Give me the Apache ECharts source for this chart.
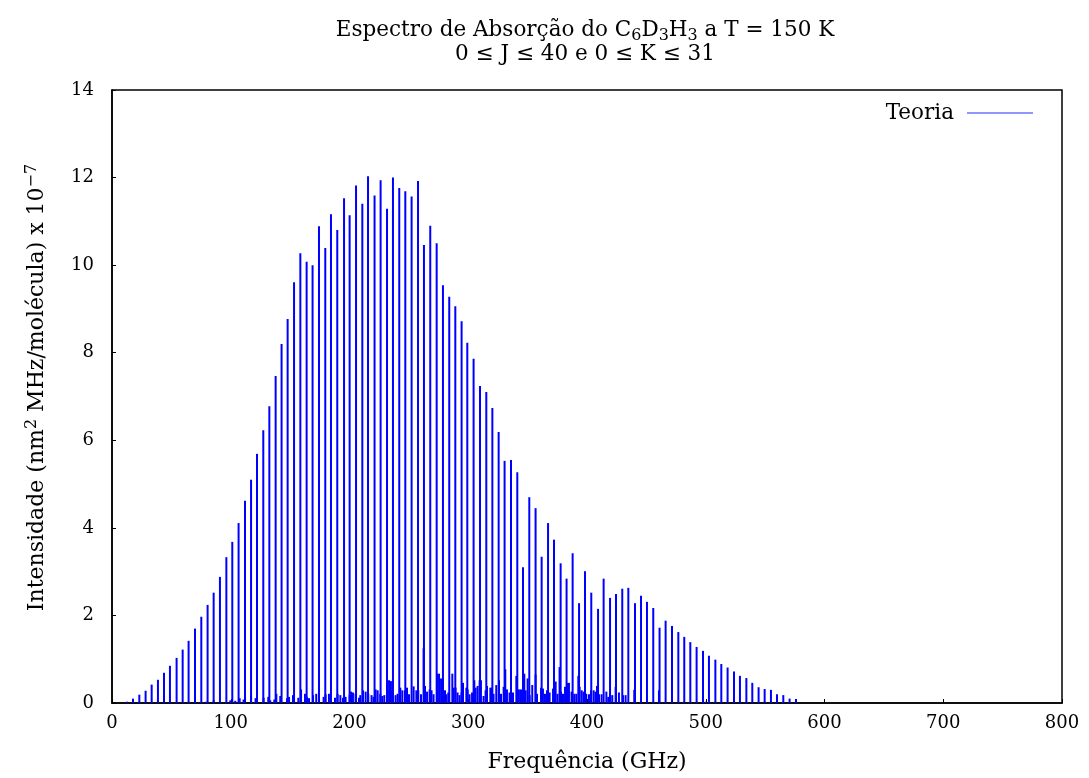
<!DOCTYPE html>
<html>
<head>
<meta charset="utf-8">
<script src="https://cdn.jsdelivr.net/npm/echarts@6/dist/echarts.min.js"></script>
<style>html,body{margin:0;padding:0;background:#fff}#c{width:1089px;height:778px}</style>
</head>
<body>
<div id="c"></div>
<script>
// Main (strong) absorption lines: frequency (GHz) and intensity (x 1e-7)
const mainFreq = [12.6, 17.7, 23.0, 28.3, 33.4, 38.7, 43.8, 48.8, 54.4, 59.5, 64.5, 69.9, 75.2, 80.5, 85.6, 90.9, 96.3, 101.3, 106.6, 112.0, 117.1, 122.1, 127.4, 132.5,
  137.8, 142.8, 147.9, 153.3, 158.6, 163.9, 168.9, 174.3, 179.6, 184.4, 189.7, 195.4, 200.1, 205.5, 210.8, 215.6, 221.1, 226.2, 231.6, 236.6, 241.9, 247.0, 252.3, 257.7, 262.7, 268.0, 273.4, 278.7, 284.0,
  289.1, 294.4, 299.2, 304.5, 309.9, 315.2, 320.3, 325.6, 330.6, 336.0, 341.3,
  346.1, 351.4, 356.7, 361.8, 367.2, 372.2, 377.8, 382.8, 387.9, 393.3, 398.3, 403.6, 409.3, 414.0, 419.4, 424.4, 429.7, 434.8, 440.4, 445.5, 450.5, 455.8, 461.1, 466.2, 471.6, 476.9, 481.9, 487.0, 492.3, 497.7, 502.7, 508.1, 513.1, 518.4, 523.8, 528.8, 534.2, 539.2, 544.5, 549.6, 554.9, 560.0, 565.3, 570.6, 576.0];
const mainIntensity = [0.03, 0.10, 0.19, 0.28, 0.42, 0.53, 0.69, 0.85, 1.03, 1.22, 1.42, 1.70, 1.97, 2.24, 2.52, 2.88, 3.33, 3.68, 4.11, 4.62, 5.10, 5.69, 6.23, 6.78,
  7.47, 8.20, 8.77, 9.61, 10.27, 10.08, 10.00, 10.89, 10.39, 11.16, 10.80, 11.53, 11.14, 11.82, 11.40, 12.03, 11.59, 11.94, 11.29, 12.00, 11.76, 11.69, 11.57, 11.92, 10.46, 10.90, 10.50, 9.54, 9.28,
  9.06, 8.72, 8.23, 7.86, 7.24, 7.10, 6.74, 6.19, 5.53, 5.55, 5.27,
  3.10, 4.70, 4.45, 3.34, 4.11, 3.73, 3.19, 2.84, 3.42, 2.28, 3.01, 2.52, 2.15, 2.84, 2.40, 2.49, 2.61, 2.63, 2.28, 2.45, 2.31, 2.17, 1.72, 1.88, 1.76, 1.62, 1.51, 1.39, 1.28, 1.19, 1.08, 0.99, 0.89, 0.81, 0.72, 0.62, 0.57, 0.46, 0.36, 0.32, 0.30, 0.20, 0.18, 0.10, 0.09];

// Weak lines (the low "forest" near the baseline)
const minorFreq = [79.4, 85.6, 99.6, 103.8, 107.5, 110.8, 117.1, 120.9, 127.7, 131.6, 133.3, 136.7, 138.4, 141.7, 147.4, 149.1, 152.4, 156.9,
  159.2, 162.5, 164.2, 165.9, 169.3, 172.0, 174.3, 178.2, 179.9, 182.7, 187.8, 190.0, 192.3, 194.5, 196.7, 200.1, 201.3, 202.9, 205.1, 208.0, 209.1, 211.4, 213.6, 215.8, 218.6, 220.3, 222.0, 223.7, 225.9, 227.6, 229.3, 231.6, 233.3, 234.9, 236.0, 238.8, 240.5, 242.8, 244.5, 246.7, 248.4, 250.1, 254.0, 256.3, 257.9,
  260.2, 262.4, 263.6, 265.3, 267.5, 269.1, 270.8, 273.7, 275.4, 277.1, 278.7, 280.4, 281.5, 283.2, 286.6, 287.7, 289.3, 291.0, 292.7, 294.4, 295.6, 298.4, 299.5, 301.1, 303.2, 305.1, 306.2, 307.9, 309.6, 310.7, 312.9, 314.6, 315.8, 318.6, 319.7, 321.3, 323.6, 325.9, 327.6, 329.8, 331.2, 332.6, 334.8, 336.0, 337.7, 340.5, 342.7, 344.4, 347.2, 348.3, 350.0, 351.7, 353.9, 356.7, 357.9,
  361.3, 362.9, 364.6, 366.3, 368.5, 371.4, 373.6, 375.2, 376.9, 378.1, 379.8, 381.5, 383.2, 384.8, 387.0, 389.3, 391.0, 392.7, 393.8, 395.5, 397.1, 399.4, 401.7, 403.4, 405.6, 407.2, 408.4, 410.1, 412.3, 416.3, 417.9, 419.6, 421.3, 424.1, 426.9, 430.3, 432.5, 439.8, 460.6, 500.2];
const minorIntensity = [0.03, 0.06, 0.06, 0.05, 0.11, 0.08, 0.15, 0.11, 0.12, 0.14, 0.06, 0.08, 0.21, 0.16, 0.11, 0.14, 0.18, 0.12,
  0.31, 0.21, 0.14, 0.11, 0.18, 0.21, 0.09, 0.14, 0.20, 0.21, 0.12, 0.21, 0.18, 0.12, 0.14, 0.18, 0.26, 0.24, 0.21, 0.12, 0.18, 0.29, 0.26, 0.21, 0.18, 0.14, 0.31, 0.29, 0.21, 0.16, 0.18, 0.41, 0.52, 0.50, 0.27, 0.18, 0.21, 0.35, 0.29, 0.29, 0.35, 0.20, 0.38, 0.29, 0.29,
  0.20, 1.25, 0.39, 0.26, 0.31, 0.29, 0.20, 0.67, 0.67, 0.56, 0.56, 0.29, 0.20, 0.24, 0.67, 0.35, 0.35, 0.24, 0.18, 0.24, 0.46, 0.35, 0.31, 0.20, 0.24, 0.52, 0.35, 0.39, 0.52, 0.52, 0.16, 0.29, 0.39, 0.35, 0.35, 0.21, 0.41, 0.52, 0.21, 0.37, 0.77, 0.31, 0.24, 0.65, 0.24, 0.62, 0.31, 0.31, 0.67, 0.29, 0.56, 0.18, 0.41, 0.65, 0.21,
  0.35, 0.33, 0.21, 0.29, 0.24, 0.33, 0.49, 0.21, 0.82, 0.26, 0.21, 0.37, 0.46, 0.46, 0.26, 0.21, 0.21, 0.62, 0.37, 0.29, 0.26, 0.21, 0.20, 0.29, 0.29, 0.26, 0.39, 0.20, 0.20, 0.26, 0.14, 0.18, 0.18, 0.37, 0.24, 0.18, 0.18, 0.30, 0.29, 0.03];

const seriesName = 'Teoria';
const xTickStep = 100, yTickStep = 2;

const lines = [];
mainFreq.forEach((f, i) => lines.push([f, mainIntensity[i]]));
minorFreq.forEach((f, i) => lines.push([f, minorIntensity[i]]));

const FONT = 'DejaVu Serif';
const chart = echarts.init(document.getElementById('c'), null, {renderer: 'canvas'});
chart.setOption({
  backgroundColor: '#ffffff',
  animation: false,
  title: {
    text: '{a|Espectro de Absorção do C}{s|6}{a|D}{s|3}{a|H}{s|3}{a| a T = 150 K}\n{b|0 ≤ J ≤ 40 e 0 ≤ K ≤ 31}',
    left: 580,
    top: 11,
    textAlign: 'center',
    textStyle: {
      fontFamily: FONT, color: '#000', fontWeight: 'normal',
      rich: {
        a: {fontFamily: FONT, fontSize: 21.5, lineHeight: 28, verticalAlign: 'middle', color: '#000'},
        s: {fontFamily: FONT, fontSize: 16, lineHeight: 15, verticalAlign: 'bottom', color: '#000'},
        b: {fontFamily: FONT, fontSize: 21.5, lineHeight: 20, verticalAlign: 'middle', color: '#000'}
      }
    }
  },
  legend: {
    data: [{name: seriesName, icon: 'rect'}],
    right: 51,
    top: 97,
    align: 'right',
    itemWidth: 66,
    itemHeight: 1.5,
    itemStyle: {color: '#7070ff'},
    textStyle: {fontFamily: FONT, fontSize: 21.5, color: '#000', padding: [0, 8, 0, 0]}
  },
  grid: {
    left: 112, right: 27, top: 90, bottom: 75,
    show: true, borderColor: '#000', borderWidth: 1.5, backgroundColor: 'transparent'
  },
  xAxis: {
    type: 'value', min: 0, max: 800, interval: xTickStep,
    name: 'Frequência (GHz)', nameLocation: 'middle', nameGap: 48,
    nameTextStyle: {fontFamily: FONT, fontSize: 22, color: '#000'},
    axisLine: {show: true, onZero: false, lineStyle: {color: '#000', width: 1.5}},
    axisTick: {show: true, inside: true, length: 4, lineStyle: {color: '#000'}},
    axisLabel: {fontFamily: FONT, fontSize: 18, color: '#000', margin: 11},
    splitLine: {show: false}
  },
  yAxis: {
    type: 'value', min: 0, max: 14, interval: yTickStep,
    name: '{a|Intensidade (nm}{p|2}{a| MHz/molécula) x 10}{p|−7}', nameLocation: 'middle', nameGap: 64, nameRotate: 90,
    nameTextStyle: {
      fontFamily: FONT, fontSize: 22, color: '#000', padding: [0, 0, 0, 18],
      rich: {
        a: {fontFamily: FONT, fontSize: 22, lineHeight: 24, verticalAlign: 'bottom', color: '#000'},
        p: {fontFamily: FONT, fontSize: 16, lineHeight: 14, verticalAlign: 'top', color: '#000'}
      }
    },
    axisLine: {show: true, onZero: false, lineStyle: {color: '#000', width: 1.5}},
    axisTick: {show: true, inside: true, length: 4, lineStyle: {color: '#000'}},
    axisLabel: {fontFamily: FONT, fontSize: 18, color: '#000', margin: 18},
    splitLine: {show: false}
  },
  series: [{
    name: seriesName,
    type: 'custom',
    clip: true,
    encode: {x: 0, y: 1},
    data: lines,
    itemStyle: {color: '#0000ff'},
    renderItem: function (params, api) {
      const x = api.value(0), y = api.value(1);
      const p0 = api.coord([x, 0]);
      const p1 = api.coord([x, y]);
      return {
        type: 'line',
        shape: {x1: p0[0], y1: p0[1], x2: p1[0], y2: p1[1]},
        style: {stroke: '#0000ff', lineWidth: 2}
      };
    }
  }]
});
</script>
</body>
</html>
